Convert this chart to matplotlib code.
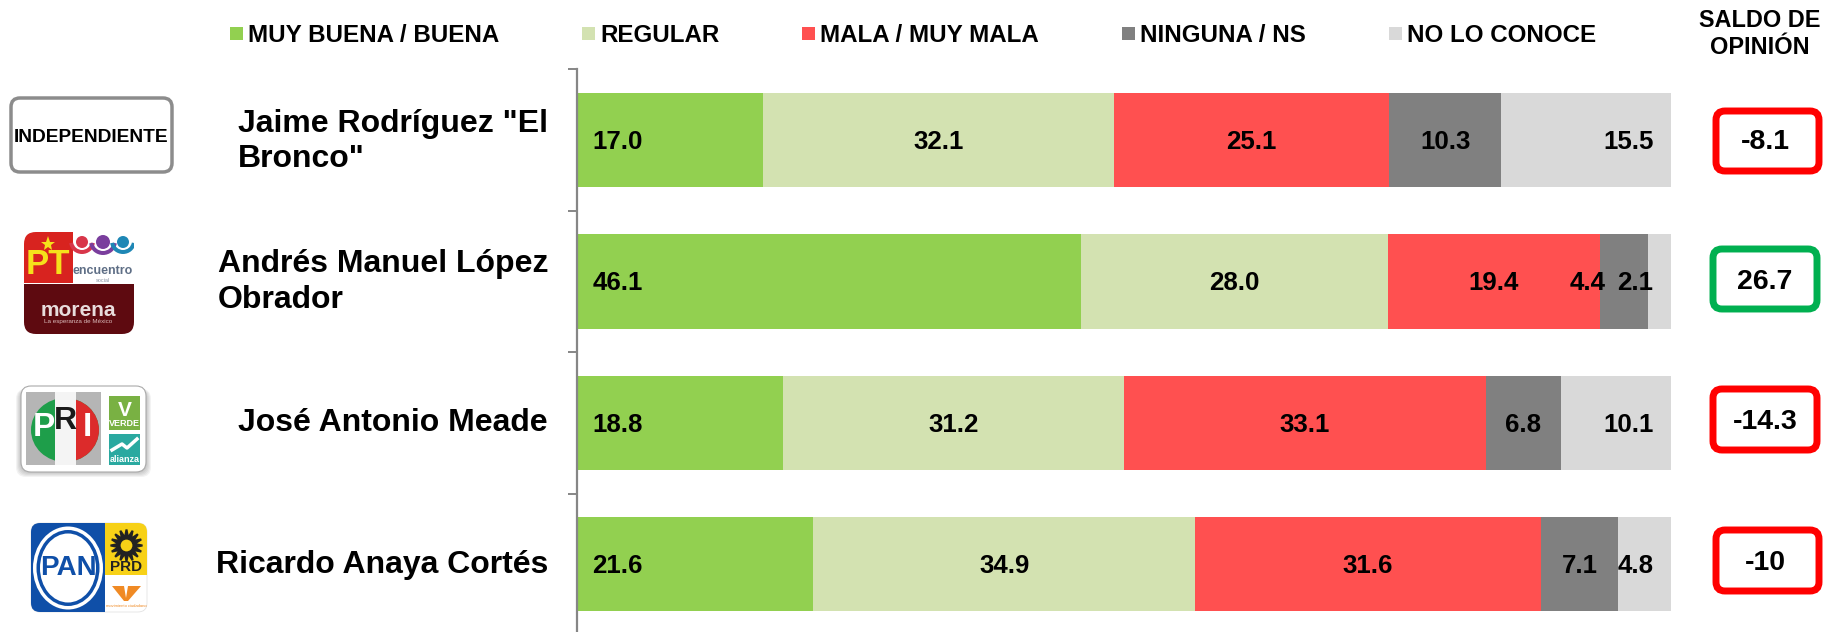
import matplotlib
matplotlib.use("Agg")
import matplotlib.pyplot as plt
from matplotlib.patches import FancyBboxPatch, Rectangle, Ellipse, Polygon, Circle, Wedge

plt.rcParams["font.family"] = ["Liberation Sans", "DejaVu Sans"]

# ---------------- Data ----------------
candidates = ['Jaime Rodríguez "El\nBronco"', "Andrés Manuel López\nObrador",
              "José Antonio Meade", "Ricardo Anaya Cortés"]
series_names = ["MUY BUENA / BUENA", "REGULAR", "MALA / MUY MALA", "NINGUNA / NS", "NO LO CONOCE"]
muy_buena = [17.0, 46.1, 18.8, 21.6]
regular = [32.1, 28.0, 31.2, 34.9]
mala = [25.1, 19.4, 33.1, 31.6]
ninguna = [10.3, 4.4, 6.8, 7.1]
no_conoce = [15.5, 2.1, 10.1, 4.8]
saldo = ["-8.1", "26.7", "-14.3", "-10"]

colors = ["#92D050", "#D3E2B1", "#FF5050", "#808080", "#D9D9D9"]

W, H = 1823, 632
fig = plt.figure(figsize=(W / 100, H / 100), dpi=100, facecolor="white")

# ---------------- Stacked bars ----------------
ax = fig.add_axes([577 / W, -3 / H, 1094 / W, 565.6 / H])
all_series = [muy_buena, regular, mala, ninguna, no_conoce]
left = [0, 0, 0, 0]
for s, values in enumerate(all_series):
    ax.barh(range(4), values, left=left, height=0.667, color=colors[s], linewidth=0)
    for i, v in enumerate(values):
        if s == 0:
            x, ha = left[i] + 1.4, "left"
        elif s == 4:
            x, ha = 98.4, "right"
        else:
            x, ha = left[i] + v / 2, "center"
        if s == 3 and i == 1:  # this label sits moved over the red bar in the original
            x -= 3.3
        ax.text(x, i - 0.004, f"{v:.1f}", ha=ha, va="center_baseline", fontsize=18.6, fontweight="bold",
                color="black", clip_on=False)
    left = [a + b for a, b in zip(left, values)]

ax.set_xlim(0, 100)
ax.set_ylim(3.5, -0.5)
ax.set_xticks([])
ax.set_yticks([-0.5, 0.5, 1.5, 2.5, 3.5])
ax.set_yticklabels([])
ax.tick_params(axis="y", length=6.5, width=1.4, color="#868686")
for side in ["top", "right", "bottom"]:
    ax.spines[side].set_visible(False)
ax.spines["left"].set_color("#868686")
ax.spines["left"].set_linewidth(1.6)
ax.patch.set_alpha(0)

# overlay in pixel coordinates, for legend, names, badges and logos
ov = fig.add_axes([0, 0, 1, 1], zorder=3)
ov.set_xlim(0, W)
ov.set_ylim(H, 0)
ov.axis("off")


def round_box(x0, y0, x1, y1, r, **kw):
    p = FancyBboxPatch((x0 + r, y0 + r), x1 - x0 - 2 * r, y1 - y0 - 2 * r,
                       boxstyle=f"round,pad={r},rounding_size={r}", **kw)
    ov.add_patch(p)
    return p


# ---------------- Legend ----------------
legend_x = [230, 582, 802, 1122, 1389]
for x, name, c in zip(legend_x, series_names, colors):
    ov.add_patch(Rectangle((x, 27), 13, 13, color=c, linewidth=0))
    ov.text(x + 18, 32.5, name, ha="left", va="center_baseline", fontsize=17.4, fontweight="bold")

ov.text(1760, 34, "SALDO DE\nOPINIÓN", ha="center", va="center", fontsize=16.9, fontweight="bold",
        linespacing=1.25)

# ---------------- Candidate names ----------------
name_y = [141.5, 282, 423, 565]
for y, name in zip(name_y, candidates):
    ov.text(548, y, name, ha="right", va="center", multialignment="left", fontsize=23,
            fontweight="bold", linespacing=1.22)

# ---------------- Saldo badges ----------------
badge_x = [(1716, 1819), (1713, 1817), (1713, 1817), (1716, 1819)]
badge_y = [(111, 171), (249, 309), (389, 450), (530, 591)]
saldo_y = [139, 279, 419, 560]
for b, text in enumerate(saldo):
    c = "#00B050" if text == "26.7" else "#FF0000"
    round_box(badge_x[b][0], badge_y[b][0], badge_x[b][1], badge_y[b][1], 9,
              facecolor="white", edgecolor=c, linewidth=5)
    ov.text(1765, saldo_y[b], text, ha="center", va="center_baseline", fontsize=20.5,
            fontweight="bold")

# ---------------- Logos (simplified) ----------------
# independiente
round_box(11, 98, 172, 172, 9, facecolor="white", edgecolor="#8C8C8C", linewidth=2.5)
ov.text(91.5, 135, "INDEPENDIENTE", ha="center", va="center_baseline", fontsize=13.8, fontweight="bold")

# PT / encuentro / morena
clip = round_box(24, 232, 134, 334, 12, facecolor="white", edgecolor="none")
parts = [Rectangle((24, 284), 110, 50, color="#5E0A10", lw=0),
         Rectangle((24, 232), 49, 51, color="#D8231F", lw=0),
         Circle((82, 242), 6, color="#D8364A", lw=0),
         Circle((103, 242), 7, color="#7A3E9D", lw=0),
         Circle((123, 242), 6, color="#1E87B5", lw=0),
         Wedge((82, 241), 13, 10, 170, width=4, color="#D8364A", lw=0),
         Wedge((103, 241), 14, 10, 170, width=4, color="#7A3E9D", lw=0),
         Wedge((123, 241), 13, 10, 170, width=4, color="#1E87B5", lw=0)]
for p in parts:
    ov.add_patch(p)
    p.set_clip_path(clip)
ov.plot([48], [244], marker="*", ms=11, color="#F5E11B", mew=0)
ov.text(48, 264, "PT", ha="center", va="center", fontsize=25, fontweight="bold", color="#F5E11B")
ov.text(103, 271, "encuentro", ha="center", va="center", fontsize=9, fontweight="bold", color="#5F6F86")
ov.text(103, 280, "social", ha="center", va="center", fontsize=4, color="#8A93A3")
ov.text(78, 310, "morena", ha="center", va="center", fontsize=15, fontweight="bold", color="#E8DCDC")
ov.text(78, 321, "La esperanza de México", ha="center", va="center", fontsize=4.5, color="#D9B9B9")

# PRI / verde / alianza
for k in range(6):
    round_box(21 - k, 386 + 3, 146 + k, 472 + k, 10, facecolor="#555555", edgecolor="none", alpha=0.07)
round_box(21, 386, 146, 472, 10, facecolor="white", edgecolor="#AAAAAA", linewidth=0.8)
ov.add_patch(Rectangle((26, 392), 75, 73, color="#B5B5B5", lw=0))
ov.add_patch(Ellipse((65, 430), 68, 64, color="#1E9E4A", lw=0))
red_part = Ellipse((65, 430), 68, 64, color="#DC2B2B", lw=0)
ov.add_patch(red_part)
red_part.set_clip_path(Rectangle((76, 392), 25, 73, transform=ov.transData))
ov.add_patch(Rectangle((55, 392), 21, 73, color="#F4F4F4", lw=0))
ov.text(44, 428, "P", ha="center", va="center", fontsize=24, fontweight="bold", color="white")
ov.text(65, 421, "R", ha="center", va="center", fontsize=23, fontweight="bold", color="#1A1A1A")
ov.text(87, 428, "I", ha="center", va="center", fontsize=24, fontweight="bold", color="white")
ov.add_patch(Rectangle((109, 396), 31, 34, color="#79B143", lw=0))
ov.add_patch(Rectangle((109, 434), 31, 31, color="#2AA9A0", lw=0))
ov.text(124.5, 410, "V", ha="center", va="center", fontsize=15, fontweight="bold", color="white")
ov.text(124.5, 424, "VERDE", ha="center", va="center", fontsize=6.5, fontweight="bold", color="white")
ov.plot([112, 122, 127, 137], [450, 444, 448, 439], color="white", lw=2.5)
ov.text(124.5, 460, "alianza", ha="center", va="center", fontsize=6.5, fontweight="bold", color="white")

# PAN / PRD / MC
clip = round_box(31, 523, 147, 612, 9, facecolor="white", edgecolor="#DDDDDD", linewidth=0.5)
parts = [Rectangle((31, 523), 74, 89, color="#0F4FA8", lw=0),
         Rectangle((105, 523), 42, 52, color="#F7D117", lw=0)]
for p in parts:
    ov.add_patch(p)
    p.set_clip_path(clip)
ov.add_patch(Ellipse((68, 568), 70, 83, facecolor="white", edgecolor="none"))
ov.add_patch(Ellipse((68, 568), 63, 76, facecolor="#0F4FA8", edgecolor="none"))
ov.add_patch(Ellipse((68, 568), 56, 69, facecolor="white", edgecolor="none"))
ov.text(68, 568, "PAN", ha="center", va="center", fontsize=20, fontweight="bold", color="#0F4FA8")
ov.plot([126], [545], marker=(16, 1, 0), ms=23, color="#222222", mew=1.5)
ov.plot([126], [545], marker="o", ms=10, mfc="#F7D117", mec="#222222", mew=1.5)
ov.text(126, 567, "PRD", ha="center", va="center", fontsize=11, fontweight="bold", color="#222222")
ov.add_patch(Polygon([(112, 586), (124, 586), (126, 598), (128, 586), (141, 586), (128, 601), (124, 601)],
                     color="#F08A24", lw=0))
ov.text(126, 606, "movimiento ciudadano", ha="center", va="center", fontsize=3, color="#F08A24")

fig.savefig("out.png", dpi=100)
